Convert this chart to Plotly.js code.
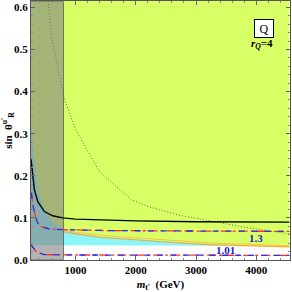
<!DOCTYPE html>
<html>
<head>
<meta charset="utf-8">
<script src="https://cdn.plot.ly/plotly-3.0.1.min.js"></script>
<style>html,body{margin:0;padding:0;background:#fff;}#chart{width:292px;height:292px;}</style>
</head>
<body>
<div id="chart"></div>
<script>
// axis extents (GeV, sin)
const massRange = [260, 4560];
const sinRange = [0, 0.615];
const excludedMass = 800; // direct search bound (shaded region)

// black solid contour
const blackMass = [261, 316, 371, 482, 620, 786, 1000, 1400, 2000, 3000, 4551];
const blackSin  = [0.239, 0.167, 0.139, 0.115, 0.105, 0.100, 0.097, 0.095, 0.093, 0.091, 0.090];

// dotted contour
const dotMass = [548, 600, 700, 781, 814, 1000, 1395, 1927, 2226, 2700, 3272, 3800, 4319, 4551];
const dotSin  = [0.615, 0.53, 0.46, 0.406, 0.382, 0.31, 0.210, 0.143, 0.126, 0.107, 0.091, 0.078, 0.067, 0.062];

// dash-dot contours (labels 1.3 and 1.01)
const ddHighMass = [266, 300, 340, 371, 430, 560, 800, 1500, 2600, 4551];
const ddHighSin  = [0.16, 0.125, 0.10, 0.088, 0.079, 0.074, 0.072, 0.070, 0.069, 0.068];
const ddLowMass = [261, 300, 340, 371, 482, 800, 2000, 4551];
const ddLowSin  = [0.036, 0.027, 0.021, 0.018, 0.013, 0.012, 0.0115, 0.011];

// cyan region
const cyanMass  = [261, 300, 371, 482, 620, 800, 1000, 1400, 2000, 2660, 3300, 3600];
const cyanUpper = [0.33, 0.25, 0.17, 0.12, 0.09, 0.072, 0.064, 0.056, 0.049, 0.043, 0.037, 0.0345];
const cyanLower = [0.035, 0.035, 0.035, 0.035, 0.035, 0.035, 0.035, 0.035, 0.034, 0.034, 0.034, 0.034];

// yellow region lower edge (orange curves)
const yelMass  = [261, 800, 1000, 1400, 2000, 2660, 3300, 4000, 4551];
const yelLower = [0.034, 0.067, 0.062, 0.054, 0.047, 0.041, 0.036, 0.033, 0.031];
const orange2Mass = [800, 1000, 1400, 2000, 2660, 3300, 4000, 4551];
const orange2Sin  = [0.071, 0.066, 0.059, 0.052, 0.046, 0.040, 0.036, 0.034];

// contour labels
const labelText = ['1.3', '1.01'];
const labelMass = [3990, 3490];
const labelSin  = [0.053, 0.023];

function band(xs, lo, hi){
  return {x: xs.concat(xs.slice().reverse()), y: lo.concat(hi.slice().reverse())};
}
const yTop = sinRange[1];
const yel = band(yelMass, yelLower, yelMass.map(()=>yTop));
const cyan = band(cyanMass, cyanLower, cyanUpper);
const grayX = [massRange[0], excludedMass, excludedMass, massRange[0]];
const grayY = [sinRange[0], sinRange[0], yTop, yTop];

const traces = [
  {x: yel.x, y: yel.y, fill:'toself', fillcolor:'#d9ff66', line:{width:0}, mode:'lines', hoverinfo:'skip'},
  {x: cyan.x, y: cyan.y, fill:'toself', fillcolor:'#8cf6f6', line:{width:0}, mode:'lines', hoverinfo:'skip'},
  {x: orange2Mass, y: orange2Sin, mode:'lines', line:{color:'rgba(255,170,60,0.7)', width:1}},
  {x: yelMass.slice(1), y: yelLower.slice(1), mode:'lines', line:{color:'rgba(250,160,40,0.9)', width:1.2}},
  {x: dotMass, y: dotSin, mode:'lines', line:{color:'rgb(95,115,50)', width:1, dash:'1px,2px'}},
  {x: grayX, y: grayY, fill:'toself', fillcolor:'rgba(128,128,128,0.6)', mode:'lines', line:{color:'rgba(90,90,90,0.8)', width:1}},
  {x: blackMass, y: blackSin, mode:'lines', line:{color:'#000', width:1.4}},
  {x: ddHighMass, y: ddHighSin, mode:'lines', line:{color:'#ff3030', width:1.3, dash:'dashdot'}},
  {x: ddHighMass, y: ddHighSin, mode:'lines', line:{color:'#2233ee', width:1.3, dash:'6px,7px'}},
  {x: ddLowMass, y: ddLowSin, mode:'lines', line:{color:'#ff3030', width:1.3, dash:'dashdot'}},
  {x: ddLowMass, y: ddLowSin, mode:'lines', line:{color:'#2233ee', width:1.3, dash:'6px,7px'}}
];

const serif = 'Liberation Serif';
const annotations = labelText.map((t,i)=>({
  x: labelMass[i], y: labelSin[i], xref:'x', yref:'y', text: t, showarrow:false,
  font:{family:serif, size:11, color:'#2222cc', weight:'bold'}
}));
annotations.push({xref:'paper', yref:'paper', x:0.938, y:0.932, text:'Q', showarrow:false,
  font:{family:serif, size:12, color:'#000'}, bgcolor:'#fff', bordercolor:'#000', borderwidth:1, width:16, height:15});
annotations.push({xref:'paper', yref:'paper', x:0.942, y:0.869, text:'<i>r</i><sub><i>Q</i></sub>=4', showarrow:false,
  font:{family:serif, size:11, color:'#000', weight:'bold'}});

const axisCommon = {
  showline:true, linecolor:'#555', linewidth:1, mirror:'ticks', ticks:'inside', ticklen:4,
  tickcolor:'#666', showgrid:false, zeroline:false,
  tickfont:{family:serif, size:11, color:'#000', weight:'bold'}
};
const layout = {
  width:292, height:292, margin:{l:31, r:2, t:1, b:32},
  paper_bgcolor:'#fff', plot_bgcolor:'#fff', showlegend:false,
  xaxis: Object.assign({}, axisCommon, {
    range: massRange, tickvals:[1000,2000,3000,4000],
    minor:{ticks:'inside', ticklen:2, dtick:200, tick0:0, tickcolor:'#888'},
    title:{text:"<i>m</i><sub>t'</sub>  (GeV)", font:{family:serif, size:11, color:'#000', weight:'bold'}, standoff:6}
  }),
  yaxis: Object.assign({}, axisCommon, {
    range: sinRange, dtick:0.1, tick0:0, tickformat:'.1f',
    minor:{ticks:'inside', ticklen:2, dtick:0.02, tick0:0, tickcolor:'#888'},
    title:{text:"sin  θ<sup>u'</sup><sub>R</sub>", font:{family:serif, size:11, color:'#000', weight:'bold'}, standoff:4}
  }),
  annotations: annotations
};
Plotly.newPlot('chart', traces, layout, {staticPlot:true, displayModeBar:false});
</script>
</body>
</html>
